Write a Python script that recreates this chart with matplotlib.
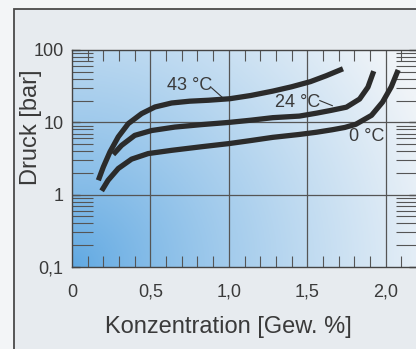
import numpy as np
import matplotlib
matplotlib.use('Agg')
import matplotlib.pyplot as plt
from matplotlib.patches import Rectangle
from matplotlib.ticker import FixedLocator, NullFormatter

plt.rcParams['font.family'] = ['Liberation Sans', 'DejaVu Sans']

# (x = Gew. %, y = bar)
x_43 = [0.168, 0.20, 0.242, 0.295, 0.359, 0.444, 0.529, 0.635, 0.75, 0.87,
        1.006, 1.14, 1.28, 1.40, 1.52, 1.62, 1.728]
p_43 = [1.58, 2.42, 3.9, 6.3, 9.6, 13.2, 16.3, 18.5, 19.6, 20.2,
        21.2, 23.5, 27.0, 31.0, 36.5, 44.0, 55.0]

x_24 = [0.263, 0.316, 0.40, 0.507, 0.656, 0.826, 1.006, 1.14, 1.28, 1.45,
        1.56, 1.65, 1.75, 1.834, 1.887, 1.924]
p_24 = [3.6, 4.8, 6.6, 7.7, 8.6, 9.3, 10.0, 10.7, 11.6, 12.2,
        13.4, 14.6, 16.2, 21.0, 30.6, 51.0]

x_0 = [0.189, 0.23, 0.295, 0.38, 0.486, 0.635, 0.826, 1.006, 1.14, 1.28,
       1.45, 1.56, 1.66, 1.74, 1.81, 1.91, 1.98, 2.036, 2.08]
p_0 = [1.13, 1.58, 2.3, 3.1, 3.7, 4.1, 4.6, 5.1, 5.6, 6.2,
       6.8, 7.3, 7.9, 8.5, 9.4, 12.5, 19.0, 31.0, 53.0]

x_ticks = [0, 0.5, 1.0, 1.5, 2.0]
x_tick_labels = ['0', '0,5', '1,0', '1,5', '2,0']
y_ticks = [0.1, 1, 10, 100]
y_tick_labels = ['0,1', '1', '10', '100']

W, H = 416, 349
fig = plt.figure(figsize=(W / 100, H / 100), dpi=100)
fig.patch.set_facecolor('#f3f5f7')

# paper panel with dark frame (continues past the image edge)
fig.patches.append(Rectangle((14 / W, -0.1), 1.2, 1 - 9 / H + 0.1,
                             transform=fig.transFigure, facecolor='#e7ebef',
                             edgecolor='#4a4a4a', linewidth=1.3, zorder=-10))

left, right, top, bottom = 72, 417, 50, 267
ax = fig.add_axes([left / W, 1 - bottom / H, (right - left) / W, (bottom - top) / H])
ax.set_xlim(0, 2.2)
ax.set_yscale('log')
ax.set_ylim(0.1, 100)

# blue gradient background, strongest at the lower left corner
nx, ny = 200, 120
gx, gy = np.meshgrid(np.linspace(0, right - left, nx), np.linspace(0, bottom - top, ny))
d = np.sqrt(gx ** 2 + gy ** 2)
t = np.clip(d / 380, 0, 1) ** 0.85
c0 = np.array([95, 168, 226]) / 255
c1 = np.array([240, 244, 248]) / 255
img = c0[None, None, :] * (1 - t[..., None]) + c1[None, None, :] * t[..., None]
ax.imshow(img, extent=[0, 1, 0, 1], origin='lower', transform=ax.transAxes,
          aspect='auto', zorder=0)

# grid
for xv in x_ticks[1:]:
    ax.axvline(xv, color='#555555', lw=0.9, zorder=1)
for yv in [1, 10]:
    ax.axhline(yv, color='#555555', lw=0.9, zorder=1)

lw = 3.8
col = '#2b2b2b'
for xs, ps in [(x_43, p_43), (x_24, p_24), (x_0, p_0)]:
    ax.plot(xs, ps, color=col, lw=lw, solid_capstyle='butt',
            solid_joinstyle='round', zorder=3)

# curve labels with leader lines
ax.text(0.75, 32, '43 °C', fontsize=13, color='#3a3a3a', ha='center', va='center')
ax.plot([0.89, 0.96], [30, 22], color='#333333', lw=0.8)
ax.text(1.44, 19, '24 °C', fontsize=13, color='#3a3a3a', ha='center', va='center')
ax.plot([1.58, 1.66], [20, 17], color='#333333', lw=0.8)
ax.text(1.88, 6.4, '0 °C', fontsize=13, color='#3a3a3a', ha='center', va='center')

for s in ax.spines.values():
    s.set_color('#444444')
    s.set_linewidth(1.0)

ax.set_xticks(x_ticks)
ax.set_xticklabels(x_tick_labels)
ax.xaxis.set_minor_locator(FixedLocator(np.arange(0.1, 2.2, 0.1)))
ax.set_yticks(y_ticks)
ax.set_yticklabels(y_tick_labels)
ax.yaxis.set_minor_formatter(NullFormatter())

ax.tick_params(axis='x', which='both', bottom=True, top=True, direction='in',
               color='#555555', labelsize=13, labelcolor='#3a3a3a', pad=12)
ax.tick_params(axis='x', which='minor', length=8, width=0.8)
ax.tick_params(axis='x', which='major', length=0)
ax.tick_params(axis='y', which='both', left=True, right=True, direction='in',
               color='#555555', labelsize=13, labelcolor='#3a3a3a')
ax.tick_params(axis='y', which='minor', length=15, width=0.8)
ax.tick_params(axis='y', which='major', length=6, width=1.0, pad=6)

ax.set_xlabel('Konzentration [Gew. %]', fontsize=17, color='#3a3a3a')
ax.xaxis.set_label_coords(0.452, -0.276)
ax.xaxis.label.set_va('center')
ax.set_ylabel('Druck [bar]', fontsize=17, color='#3a3a3a')
ax.yaxis.set_label_coords(-0.119, 0.645)
ax.yaxis.label.set_va('center')

fig.savefig('out.png', dpi=100)
